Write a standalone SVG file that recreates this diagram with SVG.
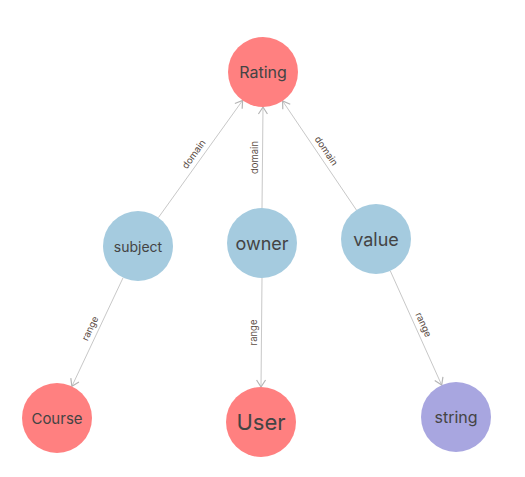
<svg xmlns="http://www.w3.org/2000/svg" width="525" height="477" viewBox="0 0 525 477">
<style>
.edge{stroke:#c8c8c8;stroke-width:1;fill:none}
.elabel{font-family:Inter,"Open Sans",sans-serif;font-size:9.5px;fill:#5a4b44;text-anchor:middle}
.nlabel{font-family:Inter,"Open Sans",sans-serif;fill:#444;text-anchor:middle;dominant-baseline:central}
.red{fill:#ff8080}
.blue{fill:#a5cbdf}
.purple{fill:#a8a6e0}
</style>
<defs>
<marker id="arr" markerWidth="12" markerHeight="12" refX="10" refY="6" orient="auto" markerUnits="userSpaceOnUse">
<path d="M3,1.5 L10,6 L3,10.5" fill="none" stroke="#b5b5b5" stroke-width="1.2"/>
</marker>
</defs>
<rect width="525" height="477" fill="#fff"/>
<g id="connectors">
<line class="edge" x1="158.4" y1="217.6" x2="242.6" y2="100.4" marker-end="url(#arr)"/>
<line class="edge" x1="262" y1="208" x2="263" y2="107" marker-end="url(#arr)"/>
<line class="edge" x1="356.4" y1="210" x2="282.6" y2="101" marker-end="url(#arr)"/>
<line class="edge" x1="123.1" y1="277.7" x2="71.9" y2="386.3" marker-end="url(#arr)"/>
<line class="edge" x1="262" y1="278" x2="261" y2="387" marker-end="url(#arr)"/>
<line class="edge" x1="390.3" y1="270.9" x2="441.7" y2="385.1" marker-end="url(#arr)"/>
<text class="elabel" transform="translate(200.5,159) rotate(-54.3)" y="-5">domain</text>
<text class="elabel" transform="translate(262.5,157.5) rotate(-90)" y="-5">domain</text>
<text class="elabel" transform="translate(319.5,155.5) rotate(55.9)" y="-5">domain</text>
<text class="elabel" transform="translate(97.5,332) rotate(-64.8)" y="-5">range</text>
<text class="elabel" transform="translate(261.5,332.5) rotate(-90)" y="-5">range</text>
<text class="elabel" transform="translate(416,328) rotate(65.8)" y="-5">range</text>
</g>
<g id="node-rating"><circle class="red" cx="263" cy="72" r="35"/><text class="nlabel" x="263" y="72" font-size="16">Rating</text></g>
<g id="node-subject"><circle class="blue" cx="138" cy="246" r="35"/><text class="nlabel" x="138" y="246" font-size="14">subject</text></g>
<g id="node-owner"><circle class="blue" cx="262" cy="243" r="35"/><text class="nlabel" x="262" y="243" font-size="18">owner</text></g>
<g id="node-value"><circle class="blue" cx="376" cy="239" r="35"/><text class="nlabel" x="376" y="239" font-size="18">value</text></g>
<g id="node-course"><circle class="red" cx="57" cy="418" r="35"/><text class="nlabel" x="57" y="418" font-size="15">Course</text></g>
<g id="node-user"><circle class="red" cx="261" cy="422" r="35"/><text class="nlabel" x="261" y="422" font-size="22">User</text></g>
<g id="node-string"><circle class="purple" cx="456" cy="417" r="35"/><text class="nlabel" x="456" y="417" font-size="16">string</text></g>
</svg>
